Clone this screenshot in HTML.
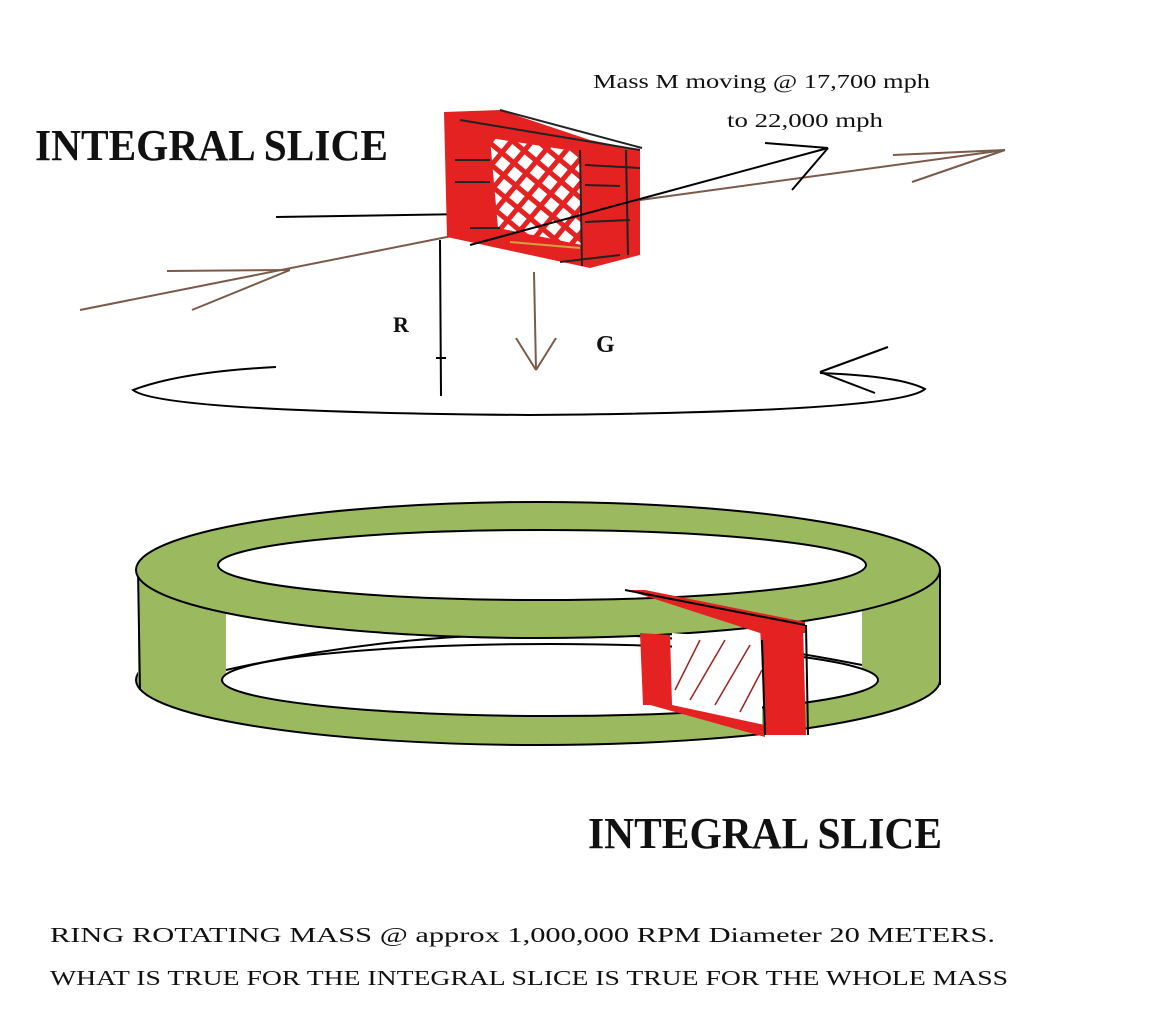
<!DOCTYPE html>
<html><head><meta charset="utf-8"><style>
html,body{margin:0;padding:0;background:#fff;}
svg{display:block;}
text{font-family:"Liberation Serif",serif;fill:#111;}
</style></head><body>
<svg width="1158" height="1022" viewBox="0 0 1158 1022" xmlns="http://www.w3.org/2000/svg">
<defs>
<pattern id="lat" width="16" height="16" patternUnits="userSpaceOnUse" patternTransform="rotate(40)">
<rect width="16" height="16" fill="#fff"/>
<rect x="0" y="0" width="5" height="16" fill="#e52222"/>
<rect x="0" y="0" width="16" height="5" fill="#e52222"/>
</pattern>
</defs>

<text x="35" y="160" font-size="44" font-weight="bold" textLength="353" lengthAdjust="spacingAndGlyphs">INTEGRAL SLICE</text>
<text x="593" y="88" font-size="20" textLength="337" lengthAdjust="spacingAndGlyphs">Mass M moving @ 17,700 mph</text>
<text x="727" y="127" font-size="20" textLength="156" lengthAdjust="spacingAndGlyphs">to 22,000 mph</text>

<line x1="276" y1="217" x2="600" y2="212" stroke="#000" stroke-width="2"/>
<polyline points="80,310 447,237 640,200 1005,150" fill="none" stroke="#7a5a4a" stroke-width="2"/>
<line x1="167" y1="271" x2="290" y2="270" stroke="#7a5a4a" stroke-width="2"/>
<line x1="192" y1="310" x2="290" y2="270" stroke="#7a5a4a" stroke-width="2"/>
<line x1="893" y1="155" x2="1005" y2="150" stroke="#7a5a4a" stroke-width="2"/>
<line x1="912" y1="182" x2="1005" y2="150" stroke="#7a5a4a" stroke-width="2"/>

<polygon points="444,112 500,110 590,140 640,150 640,255 590,268 447,237" fill="#e52222"/>
<polygon points="490,138 580,152 582,245 498,228" fill="url(#lat)"/>
<line x1="580" y1="150" x2="582" y2="266" stroke="#222" stroke-width="2"/>
<line x1="626" y1="150" x2="628" y2="255" stroke="#222" stroke-width="2"/>
<line x1="460" y1="120" x2="640" y2="150" stroke="#222" stroke-width="2"/>
<line x1="500" y1="110" x2="642" y2="148" stroke="#222" stroke-width="2"/>
<line x1="455" y1="160" x2="490" y2="160" stroke="#222" stroke-width="2"/>
<line x1="455" y1="182" x2="490" y2="182" stroke="#222" stroke-width="2"/>
<line x1="470" y1="228" x2="500" y2="228" stroke="#222" stroke-width="2"/>
<line x1="585" y1="165" x2="640" y2="168" stroke="#222" stroke-width="2"/>
<line x1="585" y1="185" x2="620" y2="186" stroke="#222" stroke-width="2"/>
<line x1="585" y1="222" x2="630" y2="220" stroke="#222" stroke-width="2"/>
<line x1="560" y1="262" x2="620" y2="255" stroke="#222" stroke-width="2"/>
<line x1="510" y1="242" x2="580" y2="248" stroke="#d9a040" stroke-width="2"/>

<line x1="470" y1="245" x2="828" y2="148" stroke="#000" stroke-width="2"/>
<line x1="765" y1="143" x2="828" y2="148" stroke="#000" stroke-width="2"/>
<line x1="828" y1="148" x2="792" y2="190" stroke="#000" stroke-width="2"/>

<line x1="440" y1="240" x2="441" y2="396" stroke="#000" stroke-width="2"/>
<line x1="436" y1="358" x2="446" y2="358" stroke="#000" stroke-width="2"/>
<text x="393" y="332" font-size="22" font-weight="bold">R</text>
<line x1="534" y1="272" x2="536" y2="370" stroke="#7a5a4a" stroke-width="2"/>
<line x1="516" y1="338" x2="536" y2="370" stroke="#7a5a4a" stroke-width="2"/>
<line x1="556" y1="338" x2="536" y2="370" stroke="#7a5a4a" stroke-width="2"/>
<text x="596" y="352" font-size="24" font-weight="bold">G</text>

<path d="M276,367 Q180,372 133,390 Q160,412 529,415 Q900,412 925,389 Q900,376 820,373" fill="none" stroke="#000" stroke-width="2"/>
<line x1="820" y1="372" x2="888" y2="347" stroke="#000" stroke-width="2"/>
<line x1="820" y1="372" x2="875" y2="393" stroke="#000" stroke-width="2"/>

<ellipse cx="538" cy="680" rx="402" ry="65" fill="#9bb95f" stroke="#000" stroke-width="2"/>
<rect x="138" y="570" width="88" height="112" fill="#9bb95f"/>
<rect x="862" y="568" width="78" height="114" fill="#9bb95f"/>
<path d="M226,600 L862,600 L862,680 L226,680 Z" fill="#fff"/>
<ellipse cx="550" cy="680" rx="328" ry="36" fill="#fff" stroke="#000" stroke-width="2"/>
<path d="M226,670 Q538,600 862,665" fill="none" stroke="#000" stroke-width="2"/>
<line x1="138" y1="570" x2="140" y2="690" stroke="#000" stroke-width="2"/>
<line x1="940" y1="570" x2="940" y2="685" stroke="#000" stroke-width="2"/>
<ellipse cx="538" cy="570" rx="402" ry="68" fill="#9bb95f" stroke="#000" stroke-width="2"/>
<ellipse cx="542" cy="565" rx="324" ry="35" fill="#fff" stroke="#000" stroke-width="2"/>

<polygon points="672,633 762,640 762,725 672,705" fill="#fff"/>
<g stroke="#a02020" stroke-width="1.5">
<line x1="675" y1="690" x2="700" y2="640"/>
<line x1="690" y1="700" x2="725" y2="640"/>
<line x1="715" y1="705" x2="750" y2="645"/>
<line x1="740" y1="712" x2="762" y2="670"/>
</g>
<polygon points="627,590 645,590 805,622 805,633 760,633" fill="#e52222"/>
<polygon points="640,633 670,635 672,705 643,705" fill="#e52222"/>
<polygon points="760,625 803,625 806,735 765,735" fill="#e52222"/>
<polygon points="643,703 672,705 765,725 765,737" fill="#e52222"/>
<line x1="625" y1="590" x2="805" y2="625" stroke="#000" stroke-width="2"/>
<line x1="806" y1="625" x2="808" y2="735" stroke="#000" stroke-width="2"/>
<line x1="762" y1="640" x2="765" y2="735" stroke="#000" stroke-width="2"/>

<text x="588" y="848" font-size="44" font-weight="bold" textLength="354" lengthAdjust="spacingAndGlyphs">INTEGRAL SLICE</text>
<text x="50" y="942" font-size="21" textLength="945" lengthAdjust="spacingAndGlyphs">RING ROTATING  MASS @ approx 1,000,000 RPM  Diameter 20 METERS.</text>
<text x="50" y="985" font-size="21" textLength="958" lengthAdjust="spacingAndGlyphs">WHAT IS TRUE FOR THE INTEGRAL SLICE IS TRUE FOR THE WHOLE MASS</text>
</svg>
</body></html>
